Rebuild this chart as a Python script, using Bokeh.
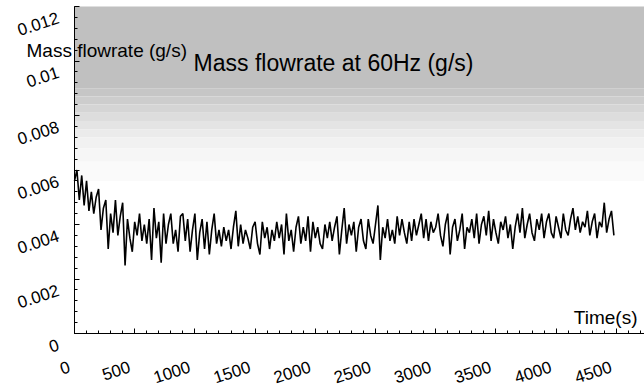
import numpy as np
from bokeh.plotting import figure
from bokeh.core.properties import value
from bokeh.models import (Range1d, SingleIntervalTicker, LabelSet, Label, LinearAxis,
                          ColumnDataSource, BoxAnnotation, CustomJSTickFormatter)
from bokeh.embed import file_html
from bokeh.resources import INLINE

# ---------------- data ----------------
sample_step_s = 20
flowrate_gs = [
    0.00560, 0.00600, 0.00490, 0.00580, 0.00470, 0.00560, 0.00450, 0.00520, 0.00440, 0.00500,
    0.00530, 0.00380, 0.00460, 0.00490, 0.00310, 0.00440, 0.00370, 0.00490, 0.00360, 0.00430,
    0.00480, 0.00250, 0.00420, 0.00350, 0.00300, 0.00410, 0.00360, 0.00440, 0.00340, 0.00400,
    0.00330, 0.00420, 0.00270, 0.00460, 0.00350, 0.00410, 0.00260, 0.00440, 0.00330, 0.00400,
    0.00440, 0.00330, 0.00380, 0.00300, 0.00430, 0.00440, 0.00340, 0.00420, 0.00300, 0.00380,
    0.00440, 0.00270, 0.00370, 0.00420, 0.00310, 0.00410, 0.00290, 0.00380, 0.00440, 0.00330,
    0.00380, 0.00320, 0.00390, 0.00340, 0.00380, 0.00310, 0.00390, 0.00450, 0.00320, 0.00400,
    0.00330, 0.00380, 0.00350, 0.00310, 0.00390, 0.00410, 0.00330, 0.00290, 0.00410, 0.00350,
    0.00390, 0.00310, 0.00380, 0.00340, 0.00410, 0.00350, 0.00400, 0.00290, 0.00440, 0.00340,
    0.00380, 0.00300, 0.00390, 0.00430, 0.00330, 0.00390, 0.00340, 0.00430, 0.00300, 0.00410,
    0.00350, 0.00390, 0.00330, 0.00310, 0.00400, 0.00350, 0.00410, 0.00340, 0.00390, 0.00430,
    0.00290, 0.00380, 0.00460, 0.00330, 0.00400, 0.00360, 0.00410, 0.00300, 0.00390, 0.00420,
    0.00340, 0.00310, 0.00420, 0.00360, 0.00330, 0.00400, 0.00470, 0.00270, 0.00390, 0.00350,
    0.00420, 0.00340, 0.00380, 0.00330, 0.00430, 0.00360, 0.00420, 0.00370, 0.00330, 0.00410,
    0.00340, 0.00420, 0.00360, 0.00400, 0.00440, 0.00350, 0.00420, 0.00340, 0.00410, 0.00370,
    0.00390, 0.00440, 0.00360, 0.00320, 0.00400, 0.00440, 0.00290, 0.00390, 0.00420, 0.00340,
    0.00380, 0.00440, 0.00310, 0.00390, 0.00370, 0.00420, 0.00350, 0.00440, 0.00330, 0.00400,
    0.00430, 0.00360, 0.00450, 0.00340, 0.00420, 0.00370, 0.00330, 0.00410, 0.00380, 0.00430,
    0.00350, 0.00400, 0.00310, 0.00390, 0.00440, 0.00370, 0.00460, 0.00350, 0.00400, 0.00440,
    0.00370, 0.00340, 0.00420, 0.00380, 0.00440, 0.00350, 0.00410, 0.00440, 0.00370, 0.00350,
    0.00430, 0.00390, 0.00350, 0.00440, 0.00380, 0.00360, 0.00420, 0.00460, 0.00380, 0.00430,
    0.00370, 0.00410, 0.00390, 0.00450, 0.00360, 0.00410, 0.00440, 0.00350, 0.00410, 0.00390,
    0.00480, 0.00370, 0.00420, 0.00450, 0.00360,
]
time_s = [i * sample_step_s for i in range(len(flowrate_gs))]

xtick_values = [0, 500, 1000, 1500, 2000, 2500, 3000, 3500, 4000, 4500]
xtick_labels = ["0", "500", "1000", "1500", "2000", "2500", "3000", "3500", "4000", "4500"]
ytick_values = [0, 0.002, 0.004, 0.006, 0.008, 0.010, 0.012]
ytick_labels = ["0", "0.002", "0.004", "0.006", "0.008", "0.01", "0.012"]

title_text = "Mass flowrate at 60Hz (g/s)"
ylabel_text = "Mass flowrate (g/s)"
xlabel_text = "Time(s)"

# ---------------- layout ----------------
W, H = 644, 388
ORIG_X, ORIG_Y = 74, 333          # pixel position of the (0, 0) corner
SX = 500 / 60.2                   # seconds per pixel
SY = 0.012 / 327                  # g/s per pixel
X_AX_END = (W - ORIG_X) * SX
Y_AX_END = 0.012
FONT = "Liberation Sans"

p = figure(width=W, height=H, output_backend="svg", toolbar_location=None,
           x_axis_location=None, y_axis_location=None,
           x_range=Range1d(-ORIG_X * SX, (W - ORIG_X) * SX),
           y_range=Range1d(-(H - ORIG_Y) * SY, ORIG_Y * SY),
           min_border=0)
p.outline_line_color = None
p.background_fill_color = "white"
p.border_fill_color = "white"
p.xgrid.visible = False
p.ygrid.visible = False

# dithered grey background approximated with a stepped gradient
bands = [
    (0.0090, 0.0120, "#c0c0c0"),
    (0.0087, 0.0090, "#c6c6c6"),
    (0.0084, 0.0087, "#cdcdcd"),
    (0.0081, 0.0084, "#d5d5d5"),
    (0.0078, 0.0081, "#dddddd"),
    (0.0075, 0.0078, "#e4e4e4"),
    (0.0072, 0.0075, "#ebebeb"),
    (0.0068, 0.0072, "#f1f1f1"),
    (0.0063, 0.0068, "#f6f6f6"),
    (0.0056, 0.0063, "#fafafa"),
]
for b, t, c in bands:
    p.add_layout(BoxAnnotation(left=0, bottom=b, top=t, fill_color=c, fill_alpha=1.0,
                               line_color=None, level="underlay"))

p.line(time_s, flowrate_gs, line_color="black", line_width=1.6)

blank = CustomJSTickFormatter(code="return ''")
xaxis = LinearAxis(fixed_location=0, bounds=(0, X_AX_END))
yaxis = LinearAxis(fixed_location=0, bounds=(0, Y_AX_END))
for ax, interval in ((xaxis, 500), (yaxis, 0.002)):
    ax.ticker = SingleIntervalTicker(interval=interval, num_minor_ticks=5)
    ax.formatter = blank
    ax.major_label_text_font_size = "0px"
    ax.major_label_standoff = 0
    ax.axis_line_color = "black"
    ax.axis_line_width = 1
    ax.major_tick_line_color = "black"
    ax.minor_tick_line_color = "black"
    ax.major_tick_in = 5
    ax.major_tick_out = 0
    ax.minor_tick_in = 3
    ax.minor_tick_out = 0
p.add_layout(xaxis, "below")
p.add_layout(yaxis, "left")

ANG = np.deg2rad(18)
xsrc = ColumnDataSource(dict(x=xtick_values, y=[0] * len(xtick_values), text=xtick_labels))
p.add_layout(LabelSet(x="x", y="y", text="text", source=xsrc, angle=ANG,
                      text_align="right", text_baseline="top",
                      x_offset=-7, y_offset=-27,
                      text_font=value(FONT), text_font_size=value("17px"),
                      text_color="black"))
ysrc = ColumnDataSource(dict(x=[0] * len(ytick_values), y=ytick_values, text=ytick_labels))
p.add_layout(LabelSet(x="x", y="y", text="text", source=ysrc, angle=ANG,
                      text_align="right", text_baseline="top",
                      x_offset=-18, y_offset=-5,
                      text_font=value(FONT), text_font_size=value("17px"),
                      text_color="black"))

p.add_layout(Label(x=(333 - ORIG_X) * SX, y=(ORIG_Y - 62) * SY, text=title_text,
                   text_align="center", text_baseline="middle", text_font=FONT,
                   text_font_size="23px", text_color="black"))
p.add_layout(Label(x=0, y=(ORIG_Y - 50) * SY, x_offset=-48, text=ylabel_text,
                   text_align="left", text_baseline="middle", text_font=FONT,
                   text_font_size="19px", text_color="black"))
p.add_layout(Label(x=X_AX_END, y=(ORIG_Y - 317) * SY, x_offset=-7, text=xlabel_text,
                   text_align="right", text_baseline="middle", text_font=FONT,
                   text_font_size="19px", text_color="black"))

open("out.html", "w").write(file_html(p, INLINE))
